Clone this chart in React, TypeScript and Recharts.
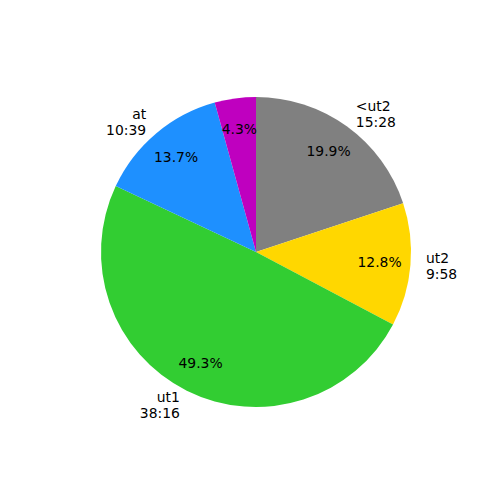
import React from 'react';
import { PieChart, Pie, Cell } from 'recharts';

// slice order, clockwise from 12 o'clock
const categories = ['<ut2', 'ut2', 'ut1', 'at', ''];
const durations = [928, 598, 2296, 639, 200]; // seconds
const timeLabels = ['15:28', '9:58', '38:16', '10:39', ''];
const colors = ['#808080', '#FFD700', '#32CD32', '#1E90FF', '#BF00BF'];

const data = categories.map((name, i) => ({
  name,
  value: durations[i],
  time: timeLabels[i],
}));

const RADIAN = Math.PI / 180;
const FONT = '"DejaVu Sans", sans-serif';

function renderLabel(props: any) {
  const { cx, cy, midAngle, outerRadius, percent, payload } = props;
  const cos = Math.cos(-midAngle * RADIAN);
  const sin = Math.sin(-midAngle * RADIAN);
  const px = cx + outerRadius * 0.8 * cos;
  const py = cy + outerRadius * 0.8 * sin;
  const lx = cx + outerRadius * 1.1 * cos;
  const ly = cy + outerRadius * 1.1 * sin;
  const anchor = cos >= 0 ? 'start' : 'end';
  return (
    <g>
      <text
        x={px}
        y={py}
        textAnchor="middle"
        dominantBaseline="central"
        fill="#000"
        fontSize={13.9}
        fontFamily={FONT}
      >
        {`${(percent * 100).toFixed(1)}%`}
      </text>
      {payload.name && (
        <text
          x={lx}
          y={ly}
          textAnchor={anchor}
          dominantBaseline="central"
          fill="#000"
          fontSize={13.9}
          fontFamily={FONT}
        >
          <tspan x={lx} dy={-8}>{payload.name}</tspan>
          <tspan x={lx} dy={16}>{payload.time}</tspan>
        </text>
      )}
    </g>
  );
}

export default function App() {
  return (
    <div style={{ position: 'absolute', left: 0, top: 0, width: 500, height: 500, background: '#fff' }}>
      <PieChart width={500} height={500} margin={{ top: 0, right: 0, bottom: 0, left: 0 }}>
        <Pie
          data={data}
          dataKey="value"
          cx={256}
          cy={252}
          outerRadius={155}
          startAngle={90}
          endAngle={-270}
          stroke="none"
          labelLine={false}
          label={renderLabel}
          isAnimationActive={false}
        >
          {data.map((d, i) => (
            <Cell key={i} fill={colors[i]} />
          ))}
        </Pie>
      </PieChart>
    </div>
  );
}
